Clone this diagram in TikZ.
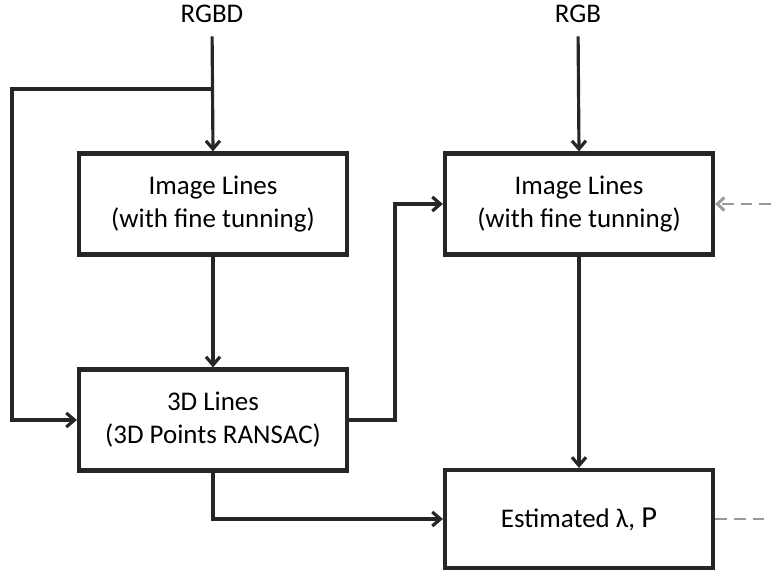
\documentclass[tikz,border=0pt]{standalone}
\usepackage{fontspec}
\setmainfont{Carlito}
\usetikzlibrary{positioning, arrows.meta}
\tikzset{
  blk/.style={draw=black!85, line width=3.6pt, minimum width=8.04cm, minimum height=3.03cm,
              align=center, font=\fontsize{23}{28}\selectfont, inner sep=0pt},
  lbl/.style={font=\fontsize{23}{26}\selectfont, inner sep=0pt},
  ln/.style={-{Straight Barb[length=7pt, width=12pt]}, line width=2.7pt, black!85},
  fb/.style={-{Straight Barb[length=6pt, width=11pt]}, line width=2.5pt, gray!80, dash pattern=on 10pt off 6pt}
}
\begin{document}
\begin{tikzpicture}[x=0.03cm, y=-0.03cm]
  \useasboundingbox (0,0) rectangle (771,571);
  % inputs
  \node[lbl, anchor=base] (rgbd) at (212,23) {RGBD};
  \node[lbl, anchor=base] (rgb) at (578,23) {RGB};
  % blocks
  \node[blk] (img1) at (213,204) {Image Lines\\(with fine tunning)};
  \node[blk] (lines3d) at (213,420) {3D Lines\\(3D Points RANSAC)};
  \node[blk] (img2) at (579,204) {Image Lines\\(with fine tunning)};
  \node[blk, minimum height=2.94cm] (est) at (579,519) {Estimated λ, {\fontsize{26}{28}\selectfont P}};
  % helper points
  \coordinate (lft) at (12,89);
  \coordinate (mid) at (395,0);
  \coordinate (fbin) at (771,204);
  \coordinate (fbout) at (771,519);
  % connections
  \draw[ln, shorten <=11pt] (rgbd.south) -- (img1.north);
  \draw[ln, shorten <=11pt] (rgb.south) -- (img2.north);
  \draw[ln] (img1.north |- lft) -- (lft) |- (lines3d.west);
  \draw[ln] (img1.south) -- (lines3d.north);
  \draw[ln] (lines3d.east) -- (lines3d.east -| mid) |- (img2.west);
  \draw[ln] (lines3d.south) |- (est.west);
  \draw[ln] (img2.south) -- (est.north);
  \draw[fb] (fbin) -- (img2.east);
  \draw[fb, -] (est.east) -- (fbout);
\end{tikzpicture}
\end{document}
